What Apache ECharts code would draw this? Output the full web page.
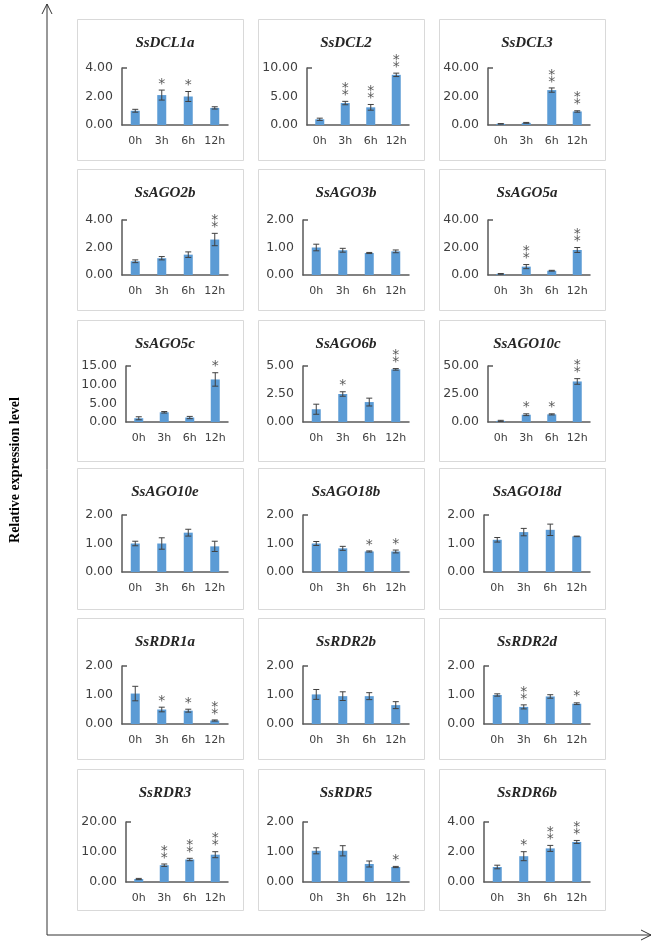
<!DOCTYPE html>
<html><head><meta charset="utf-8">
<script src="https://cdn.jsdelivr.net/npm/echarts@6/dist/echarts.min.js"></script>
<style>html,body{margin:0;padding:0;background:#fff}#c{width:654px;height:944px}</style>
</head><body><div id="c"></div>
<script>
const genes = ['SsDCL1a','SsDCL2','SsDCL3','SsAGO2b','SsAGO3b','SsAGO5a','SsAGO5c','SsAGO6b','SsAGO10c',
  'SsAGO10e','SsAGO18b','SsAGO18d','SsRDR1a','SsRDR2b','SsRDR2d','SsRDR3','SsRDR5','SsRDR6b'];
const times = ['0h','3h','6h','12h'];
const means = [
  [1.0,2.1,2.0,1.2],
  [1.0,3.85,3.1,8.8],
  [0.8,1.5,24.5,9.5],
  [1.0,1.22,1.48,2.58],
  [1.0,0.9,0.8,0.86],
  [0.8,6.1,3.1,18.2],
  [1.0,2.6,1.2,11.4],
  [1.14,2.5,1.78,4.7],
  [1.0,6.5,6.8,36.2],
  [1.0,1.0,1.38,0.9],
  [1.0,0.83,0.72,0.72],
  [1.13,1.4,1.48,1.25],
  [1.05,0.5,0.46,0.12],
  [1.02,0.96,0.96,0.65],
  [1.0,0.59,0.95,0.7],
  [1.0,5.6,7.5,9.1],
  [1.04,1.04,0.6,0.5],
  [1.0,1.72,2.24,2.67]
];
const errs = [
  [0.1,0.35,0.35,0.08],
  [0.2,0.3,0.5,0.3],
  [0.2,0.3,1.5,0.5],
  [0.1,0.12,0.2,0.45],
  [0.12,0.07,0.02,0.05],
  [0.3,1.5,0.3,1.8],
  [0.4,0.2,0.3,1.8],
  [0.45,0.2,0.35,0.07],
  [0.5,0.8,0.5,2.5],
  [0.08,0.2,0.12,0.18],
  [0.07,0.07,0.02,0.05],
  [0.08,0.13,0.2,0.01],
  [0.25,0.08,0.05,0.02],
  [0.17,0.15,0.12,0.12],
  [0.04,0.07,0.06,0.03],
  [0.2,0.4,0.4,1.0],
  [0.1,0.17,0.1,0.02],
  [0.12,0.3,0.2,0.1]
];
const stars = [
  [0,1,1,0],[0,2,2,2],[0,0,2,2],
  [0,0,0,2],[0,0,0,0],[0,2,0,2],
  [0,0,0,1],[0,1,0,2],[0,1,1,2],
  [0,0,0,0],[0,0,1,1],[0,0,0,0],
  [0,1,1,2],[0,0,0,0],[0,2,0,1],
  [0,2,2,2],[0,0,0,1],[0,1,2,2]
];
const axisMax  = [4,10,40,4,2,40,15,5,50,2,2,2,2,2,2,20,2,4];
const axisStep = [2,5,20,2,1,20,5,2.5,25,1,1,1,1,1,1,10,1,2];
const yTitle = 'Relative expression level';

// layout
const colLeft = [77,258,439], boxW = 166, boxH = 141;
const rowTop = [19,169,320,468,618,769];
const plotTop = [49,51,46,47,48,53], plotBot = [106,106,102,104,106,113];

const chart = echarts.init(document.getElementById('c'));
const grids=[], xAxes=[], yAxes=[], series=[], titles=[], graphics=[];
const axisColor = '#595959';

genes.forEach((g,i)=>{
  const r = Math.floor(i/3), c = i%3;
  const bl = colLeft[c], bt = rowTop[r];
  const lab = axisMax[i].toFixed(2);
  const off = lab.length > 4 ? 49 : 45;
  graphics.push({type:'rect', shape:{x:bl+0.5,y:bt+0.5,width:boxW,height:boxH},
    style:{fill:'#fff',stroke:'#d9d9d9',lineWidth:1}, z:-10});
  titles.push({text:g, left:bl+boxW/2, top:bt+12, textAlign:'center',
    textStyle:{fontFamily:'Liberation Serif',fontStyle:'italic',fontWeight:'bold',fontSize:15,color:'#262626'}});
  grids.push({left:bl+off, width:boxW-off-15, top:bt+plotTop[r], height:plotBot[r]-plotTop[r]});
  xAxes.push({type:'category', gridIndex:i, data:times,
    axisLine:{lineStyle:{color:axisColor,width:1.5}}, axisTick:{show:false},
    axisLabel:{interval:0,fontSize:11,color:'#404040',fontFamily:'DejaVu Sans',margin:11,hideOverlap:false}});
  yAxes.push({type:'value', gridIndex:i, min:0, max:axisMax[i], interval:axisStep[i],
    splitLine:{show:false},
    axisLine:{show:true,lineStyle:{color:axisColor,width:1.5}},
    axisTick:{show:true,inside:true,length:5,customValues:[axisMax[i]],lineStyle:{color:axisColor,width:1.5}},
    axisLabel:{fontSize:12.5,color:'#404040',fontFamily:'DejaVu Sans',margin:9,formatter:v=>v.toFixed(2)}});
  series.push({type:'bar', xAxisIndex:i, yAxisIndex:i, data:means[i], barWidth:9,
    itemStyle:{color:'#5B9BD5'}, silent:true});
  series.push({type:'custom', xAxisIndex:i, yAxisIndex:i, silent:true, z:5,
    data: means[i].map((m,k)=>[k,m,errs[i][k],stars[i][k]]),
    renderItem:(params,api)=>{
      const x=api.value(0), y=api.value(1), e=api.value(2), s=api.value(3);
      const t=api.coord([x,y+e]), b=api.coord([x,Math.max(0,y-e)]);
      const cap=3, st={stroke:'#404040',lineWidth:1};
      const ch=[
        {type:'line',shape:{x1:t[0],y1:t[1],x2:b[0],y2:b[1]},style:st},
        {type:'line',shape:{x1:t[0]-cap,y1:t[1],x2:t[0]+cap,y2:t[1]},style:st},
        {type:'line',shape:{x1:b[0]-cap,y1:b[1],x2:b[0]+cap,y2:b[1]},style:st}
      ];
      for(let k=0;k<s;k++){
        ch.push({type:'text',style:{text:'*',x:t[0],y:t[1]+1-7*k,align:'center',verticalAlign:'bottom',
          fill:'#595959',fontSize:14,fontFamily:'DejaVu Sans'}});
      }
      return {type:'group',children:ch};
    }});
});

// big axes with arrows
const ax = 47, ay = 935;
graphics.push({type:'polyline',shape:{points:[[ax,4],[ax,ay],[651,ay]]},style:{stroke:'#333',lineWidth:1,fill:null}});
graphics.push({type:'polyline',shape:{points:[[ax-5,14],[ax,4],[ax+5,14]]},style:{stroke:'#333',lineWidth:1,fill:null}});
graphics.push({type:'polyline',shape:{points:[[641,ay-5],[651,ay],[641,ay+5]]},style:{stroke:'#333',lineWidth:1,fill:null}});
graphics.push({type:'text',x:15,y:470,rotation:Math.PI/2,
  style:{text:yTitle,align:'center',verticalAlign:'middle',fill:'#000',
    fontFamily:'Liberation Serif',fontWeight:'bold',fontSize:14}});

chart.setOption({
  animation:false,
  title:titles, grid:grids, xAxis:xAxes, yAxis:yAxes, series:series, graphic:graphics
});
</script></body></html>
